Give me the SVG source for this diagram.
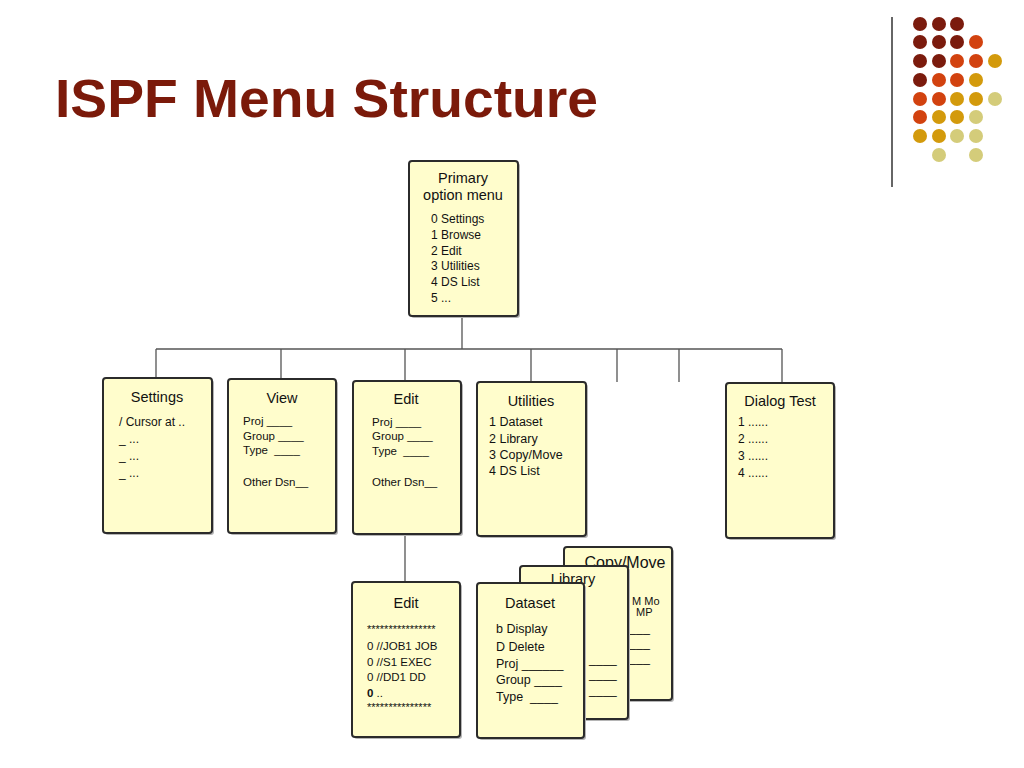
<svg xmlns="http://www.w3.org/2000/svg" width="1024" height="768" viewBox="0 0 1024 768">
<defs>
<style>
.box{fill:#FFFDCC;stroke:#2b2b2b;stroke-width:2}
.sh{fill:#b5b5b5}
.t{font-family:"Liberation Sans",Arial,sans-serif;fill:#111}
.h{font-size:14.5px;text-anchor:middle}
.s12{font-size:12px}
.s125{font-size:12.5px}
.s115{font-size:11.5px}
.s11{font-size:11px}
.pre{white-space:pre}
.con{fill:none;stroke:#555;stroke-width:1.3}
.dk{fill:#7B1B0D}.or{fill:#D2420F}.gd{fill:#D39A0C}.pl{fill:#D4CC7A}
</style>
</defs>
<rect width="1024" height="768" fill="#ffffff"/>

<text x="55" y="117" font-family="Liberation Sans,Arial,sans-serif" font-weight="bold" font-size="53" fill="#7B1A0A" textLength="543" lengthAdjust="spacingAndGlyphs">ISPF Menu Structure</text>

<line x1="892" y1="17" x2="892" y2="187" stroke="#333" stroke-width="1.5"/>
<g id="dots">
<circle class="dk" cx="920" cy="24" r="7"/><circle class="dk" cx="939" cy="24" r="7"/><circle class="dk" cx="957" cy="24" r="7"/>
<circle class="dk" cx="920" cy="42" r="7"/><circle class="dk" cx="939" cy="42" r="7"/><circle class="dk" cx="957" cy="42" r="7"/><circle class="or" cx="976" cy="42" r="7"/>
<circle class="dk" cx="920" cy="61" r="7"/><circle class="dk" cx="939" cy="61" r="7"/><circle class="or" cx="957" cy="61" r="7"/><circle class="or" cx="976" cy="61" r="7"/><circle class="gd" cx="995" cy="61" r="7"/>
<circle class="dk" cx="920" cy="80" r="7"/><circle class="or" cx="939" cy="80" r="7"/><circle class="or" cx="957" cy="80" r="7"/><circle class="gd" cx="976" cy="80" r="7"/>
<circle class="or" cx="920" cy="99" r="7"/><circle class="or" cx="939" cy="99" r="7"/><circle class="gd" cx="957" cy="99" r="7"/><circle class="gd" cx="976" cy="99" r="7"/><circle class="pl" cx="995" cy="99" r="7"/>
<circle class="or" cx="920" cy="117" r="7"/><circle class="gd" cx="939" cy="117" r="7"/><circle class="gd" cx="957" cy="117" r="7"/><circle class="pl" cx="976" cy="117" r="7"/>
<circle class="gd" cx="920" cy="136" r="7"/><circle class="gd" cx="939" cy="136" r="7"/><circle class="pl" cx="957" cy="136" r="7"/><circle class="pl" cx="976" cy="136" r="7"/>
<circle class="pl" cx="939" cy="155" r="7"/><circle class="pl" cx="976" cy="155" r="7"/>
</g>

<g id="connectors">
<path class="con" d="M462,316 V349 M156,349 H782 M156,349 V378 M281,349 V379 M405,349 V381 M531,349 V382 M617,349 V382 M679,349 V382 M782,349 V383 M405,534 V582"/>
</g>

<g id="primary">
<rect class="sh" x="411" y="163" width="109" height="155" rx="3"/>
<rect class="box" x="409" y="161" width="109" height="155" rx="3"/>
<text class="t h" x="463" y="183">Primary</text>
<text class="t h" x="463" y="200">option menu</text>
<text class="t s12" x="431" y="223">0 Settings</text>
<text class="t s12" x="431" y="239">1 Browse</text>
<text class="t s12" x="431" y="255">2 Edit</text>
<text class="t s12" x="431" y="270">3 Utilities</text>
<text class="t s12" x="431" y="286">4 DS List</text>
<text class="t s12" x="431" y="302">5 ...</text>
</g>

<g id="settings">
<rect class="sh" x="105" y="380" width="109" height="155" rx="3"/>
<rect class="box" x="103" y="378" width="109" height="155" rx="3"/>
<text class="t h" x="157" y="402">Settings</text>
<text class="t s12" x="119" y="426">/ Cursor at ..</text>
<text class="t s12" x="119" y="443">_ ...</text>
<text class="t s12" x="119" y="460">_ ...</text>
<text class="t s12" x="119" y="477">_ ...</text>
</g>

<g id="view">
<rect class="sh" x="230" y="381" width="108" height="154" rx="3"/>
<rect class="box" x="228" y="379" width="108" height="154" rx="3"/>
<text class="t h" x="282" y="403">View</text>
<text class="t s115 pre" x="243" y="425">Proj ____</text>
<text class="t s115 pre" x="243" y="440">Group ____</text>
<text class="t s115 pre" x="243" y="454">Type  ____</text>
<text class="t s115 pre" x="243" y="486">Other Dsn__</text>
</g>

<g id="edit">
<rect class="sh" x="355" y="383" width="108" height="153" rx="3"/>
<rect class="box" x="353" y="381" width="108" height="153" rx="3"/>
<text class="t h" x="406" y="404">Edit</text>
<text class="t s115 pre" x="372" y="426">Proj ____</text>
<text class="t s115 pre" x="372" y="440">Group ____</text>
<text class="t s115 pre" x="372" y="455">Type  ____</text>
<text class="t s115 pre" x="372" y="486">Other Dsn__</text>
</g>

<g id="utilities">
<rect class="sh" x="479" y="384" width="109" height="154" rx="3"/>
<rect class="box" x="477" y="382" width="109" height="154" rx="3"/>
<text class="t h" x="531" y="406">Utilities</text>
<text class="t s125" x="489" y="426">1 Dataset</text>
<text class="t s125" x="489" y="443">2 Library</text>
<text class="t s125" x="489" y="459">3 Copy/Move</text>
<text class="t s125" x="489" y="475">4 DS List</text>
</g>

<g id="dialog">
<rect class="sh" x="728" y="385" width="108" height="155" rx="3"/>
<rect class="box" x="726" y="383" width="108" height="155" rx="3"/>
<text class="t h" x="780" y="406">Dialog Test</text>
<text class="t s12" x="738" y="426">1 ......</text>
<text class="t s12" x="738" y="443">2 ......</text>
<text class="t s12" x="738" y="460">3 ......</text>
<text class="t s12" x="738" y="477">4 ......</text>
</g>

<g id="edit2">
<rect class="sh" x="354" y="584" width="108" height="155" rx="3"/>
<rect class="box" x="352" y="582" width="108" height="155" rx="3"/>
<text class="t h" x="406" y="608">Edit</text>
<text class="t s11" x="367" y="633">****************</text>
<text class="t s115" x="367" y="650">0 //JOB1 JOB</text>
<text class="t s115" x="367" y="666">0 //S1 EXEC</text>
<text class="t s115" x="367" y="681">0 //DD1 DD</text>
<text class="t s115" x="367" y="697"><tspan font-weight="bold">0</tspan> ..</text>
<text class="t s11" x="367" y="711">***************</text>
</g>

<g id="copymove">
<rect class="sh" x="566" y="549" width="108" height="153" rx="3"/>
<rect class="box" x="564" y="547" width="108" height="153" rx="3"/>
<text class="t" x="625" y="568" font-size="16" text-anchor="middle">Copy/Move</text>
<text class="t s11" x="632" y="605">M Mo</text>
<text class="t s11" x="636" y="616">MP</text>
<text class="t s125" x="629" y="632">___</text>
<text class="t s125" x="629" y="647">___</text>
<text class="t s125" x="629" y="662">___</text>
</g>

<g id="library">
<rect class="sh" x="522" y="568" width="108" height="153" rx="3"/>
<rect class="box" x="520" y="566" width="108" height="153" rx="3"/>
<text class="t h" x="573" y="584">Library</text>
<text class="t s125" x="589" y="663">____</text>
<text class="t s125" x="589" y="678">____</text>
<text class="t s125" x="589" y="694">____</text>
</g>

<g id="dataset">
<rect class="sh" x="479" y="585" width="107" height="155" rx="3"/>
<rect class="box" x="477" y="583" width="107" height="155" rx="3"/>
<text class="t h" x="530" y="608">Dataset</text>
<text class="t s125" x="496" y="633">b Display</text>
<text class="t s125" x="496" y="651">D Delete</text>
<text class="t s125 pre" x="496" y="668">Proj ______</text>
<text class="t s125 pre" x="496" y="684">Group ____</text>
<text class="t s125 pre" x="496" y="701">Type  ____</text>
</g>
</svg>
